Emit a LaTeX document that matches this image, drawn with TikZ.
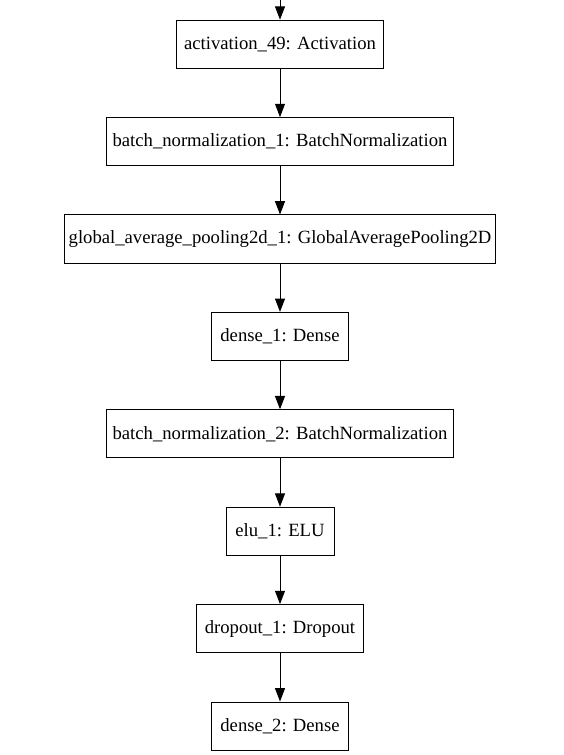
\documentclass[tikz,border=0pt]{standalone}
\usepackage{fontspec}
\setmainfont{Liberation Serif}
\newfontfamily\layerfont{Liberation Serif}
\usetikzlibrary{positioning,arrows.meta}

\begin{document}
\begin{tikzpicture}[x=0.75pt,y=-0.75pt,
    layer/.style={draw,line width=0.75pt,minimum height=36pt,inner xsep=3pt,
        font=\layerfont\fontsize{14pt}{16pt}\selectfont},
    node distance=36.3pt,
    >={Triangle[length=10pt,width=7.5pt]}]
    \useasboundingbox (0,0) rectangle (563,755);
    \coordinate (in) at (280,0);

    \node[layer,minimum width=155pt] (act49) at (280,44.2) {activation\_49: Activation};
    \node[layer,minimum width=260pt,below=of act49] (bn1) {batch\_normalization\_1: BatchNormalization};
    \node[layer,minimum width=323pt,below=of bn1] (gap1) {global\_average\_pooling2d\_1: GlobalAveragePooling2D};
    \node[layer,minimum width=102.5pt,below=of gap1] (dense1) {dense\_1: Dense};
    \node[layer,minimum width=260pt,below=of dense1] (bn2) {batch\_normalization\_2: BatchNormalization};
    \node[layer,minimum width=81pt,below=of bn2] (elu1) {elu\_1: ELU};
    \node[layer,minimum width=125.5pt,below=of elu1] (drop1) {dropout\_1: Dropout};
    \node[layer,minimum width=102.5pt,below=of drop1] (dense2) {dense\_2: Dense};

    \foreach \a/\b in {in/act49,act49/bn1,bn1/gap1,gap1/dense1,dense1/bn2,bn2/elu1,elu1/drop1,drop1/dense2}
        \draw[->,line width=0.75pt] (\a) -- (\b);
\end{tikzpicture}
\end{document}
